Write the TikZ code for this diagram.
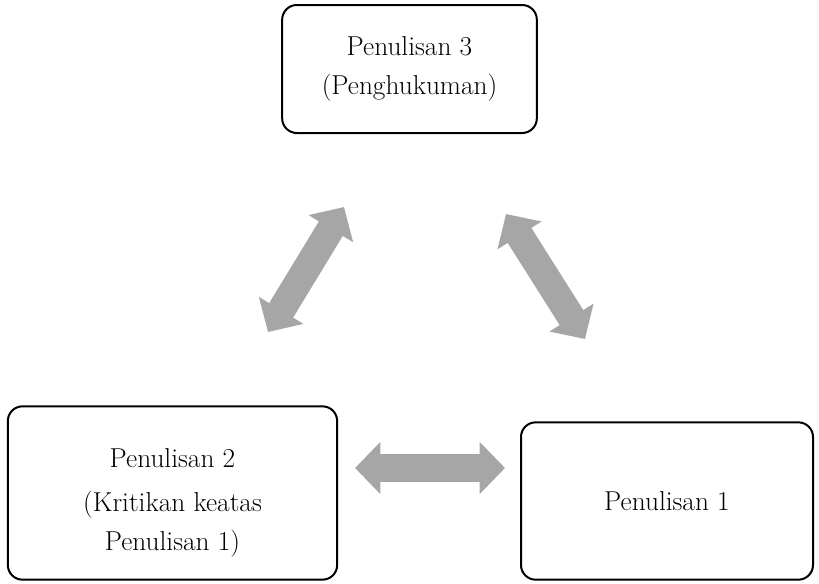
\documentclass[tikz,border=0pt]{standalone}
\usetikzlibrary{arrows.meta}
\definecolor{arrowgray}{HTML}{A6A6A6}
\tikzset{every picture/.style={line width=0.75pt}}
\tikzset{
  penbox/.style={draw=black, line width=1.5pt, rounded corners=11pt, align=center, inner sep=0pt, font=\fontsize{20.5}{29}\selectfont},
  dblarrow/.style={draw=arrowgray, line width=21pt, {Triangle[width=38pt,length=19pt]}-{Triangle[width=38pt,length=19pt]}}
}
\begin{document}
\begin{tikzpicture}[x=0.75pt,y=0.75pt,yscale=-1,xscale=1]
\useasboundingbox (0,0) rectangle (819,583);

\draw (409.5,69) node [penbox, minimum width=191pt, minimum height=96pt] (p3) {Penulisan 3\\(Penghukuman)};
\draw (172.5,493) node [penbox, minimum width=247pt, minimum height=130pt] (p2) {\rule{0pt}{29pt}Penulisan 2\\[4pt](Kritikan keatas\\Penulisan 1)};
\draw (667,501) node [penbox, minimum width=219pt, minimum height=118pt] (p1) {Penulisan 1};

\coordinate (a23s) at (268,332);
\coordinate (a23e) at (344,207);
\coordinate (a31s) at (506,214);
\coordinate (a31e) at (585,339);
\coordinate (a21s) at (355,468);
\coordinate (a21e) at (505,468);

\draw [dblarrow] (a23s) -- (a23e);
\draw [dblarrow] (a31s) -- (a31e);
\draw [dblarrow] (a21s) -- (a21e);

\end{tikzpicture}
\end{document}
